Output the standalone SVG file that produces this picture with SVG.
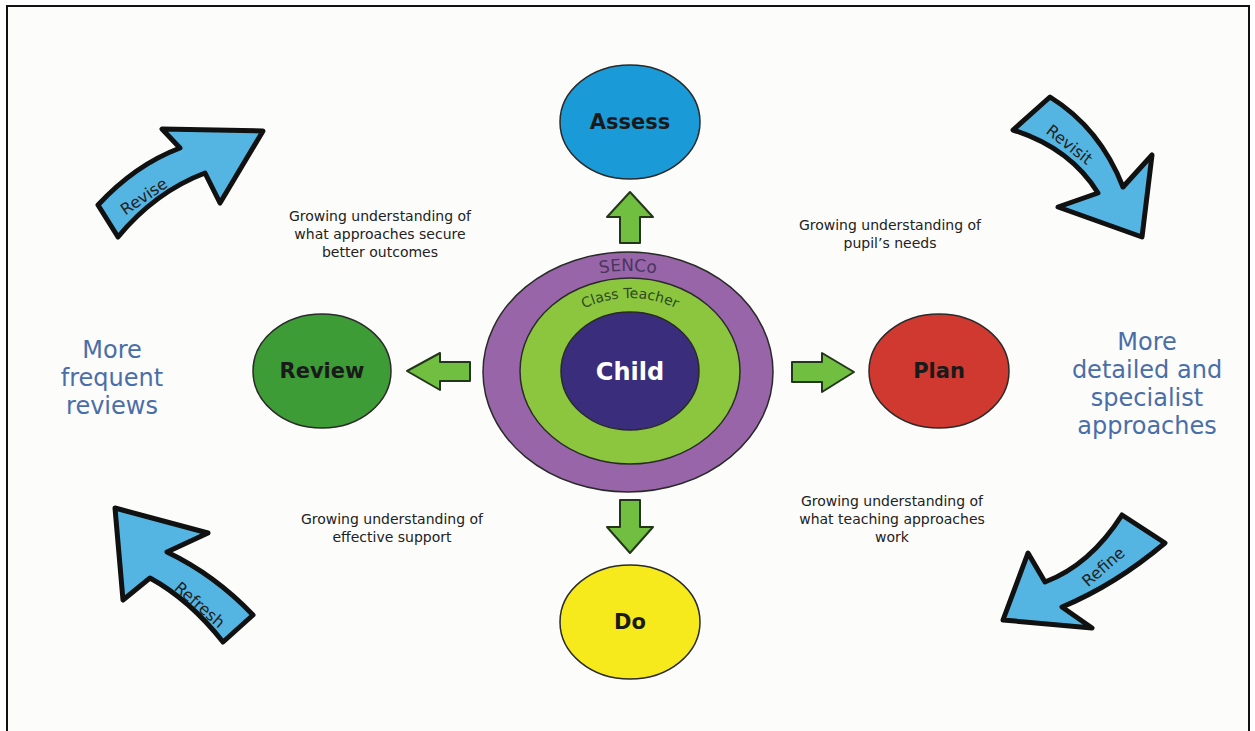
<svg xmlns="http://www.w3.org/2000/svg" width="1255" height="731" viewBox="0 0 1255 731">
<defs>
<style>
.bg{fill:#fcfcfa;stroke:#111;stroke-width:2}
.node{stroke:#2a2a2a;stroke-width:1.5}
.lbl{font-family:"DejaVu Sans",sans-serif;font-weight:bold;font-size:21px;fill:#1a1a1a;text-anchor:middle}
.note{font-family:"DejaVu Sans",sans-serif;font-size:14px;fill:#222;text-anchor:middle}
.big{font-family:"DejaVu Sans",sans-serif;font-size:24px;fill:#4a6ea8;text-anchor:middle}
.green{fill:#70bf41;stroke:#24361a;stroke-width:2;stroke-linejoin:round}
.blue{fill:#55b5e2;stroke:#111;stroke-width:5;stroke-linejoin:round}
.hand{font-family:"DejaVu Sans",sans-serif;font-size:16px;fill:#222;text-anchor:middle}
</style>
<path id="arcS" d="M503,372 A125,101 0 0 1 753,372"/>
<path id="arcT" d="M540,372 A90,74 0 0 1 720,372"/>
</defs>
<rect x="0" y="0" width="1255" height="731" fill="#ffffff"/>
<rect class="bg" x="7" y="6" width="1242" height="740"/>

<g id="connectors">
<path class="green" d="M630,192 L653,217 L640,217 L640,243 L620,243 L620,217 L607,217 Z"/>
<path class="green" d="M630,553 L653,527 L640,527 L640,500 L620,500 L620,527 L607,527 Z"/>
<path class="green" d="M407,371 L440,353 L440,362 L470,362 L470,381 L440,381 L440,390 Z"/>
<path class="green" d="M854,372 L822,353 L822,362 L792,362 L792,382 L822,382 L822,392 Z"/>
</g>

<g id="centre">
<ellipse cx="628" cy="372" rx="145" ry="120" fill="#9866a8" class="node"/>
<ellipse cx="630" cy="371" rx="110" ry="93" fill="#8cc63f" class="node"/>
<ellipse cx="630" cy="371" rx="69" ry="59" fill="#3a2d7c" class="node"/>
<text font-family="DejaVu Sans, sans-serif" font-size="17" fill="#4a3560" text-anchor="middle"><textPath href="#arcS" startOffset="50%">SENCo</textPath></text>
<text font-family="DejaVu Sans, sans-serif" font-size="14" fill="#2e4a1e" text-anchor="middle"><textPath href="#arcT" startOffset="50%">Class Teacher</textPath></text>
<text x="630" y="380" font-family="DejaVu Sans, sans-serif" font-weight="bold" font-size="24" fill="#ffffff" text-anchor="middle">Child</text>
</g>

<g id="assess">
<ellipse cx="630" cy="122" rx="70" ry="57" fill="#1a9ad6" class="node"/>
<text class="lbl" x="630" y="129">Assess</text>
</g>
<g id="review">
<ellipse cx="322" cy="371" rx="69" ry="57" fill="#3d9c35" class="node"/>
<text class="lbl" x="322" y="378">Review</text>
</g>
<g id="plan">
<ellipse cx="939" cy="371" rx="70" ry="57" fill="#d0392f" class="node"/>
<text class="lbl" x="939" y="378">Plan</text>
</g>
<g id="do">
<ellipse cx="630" cy="622" rx="70" ry="57" fill="#f7ea1c" class="node"/>
<text class="lbl" x="630" y="629">Do</text>
</g>

<g id="notes">
<text class="note" x="380" y="221">Growing understanding of</text>
<text class="note" x="380" y="239">what approaches secure</text>
<text class="note" x="380" y="257">better outcomes</text>
<text class="note" x="890" y="230">Growing understanding of</text>
<text class="note" x="890" y="248">pupil’s needs</text>
<text class="note" x="392" y="524">Growing understanding of</text>
<text class="note" x="392" y="542">effective support</text>
<text class="note" x="892" y="506">Growing understanding of</text>
<text class="note" x="892" y="524">what teaching approaches</text>
<text class="note" x="892" y="542">work</text>
</g>

<g id="left-text">
<text class="big" x="112" y="358">More</text>
<text class="big" x="112" y="386">frequent</text>
<text class="big" x="112" y="414">reviews</text>
</g>
<g id="right-text">
<text class="big" x="1147" y="350">More</text>
<text class="big" x="1147" y="378">detailed and</text>
<text class="big" x="1147" y="406">specialist</text>
<text class="big" x="1147" y="434">approaches</text>
</g>

<g id="revise">
<path class="blue" d="M98,205 Q135,165 180,148 L162,129 L263,131 L220,203 L205,173 Q155,192 118,237 Z"/>
<text class="hand" transform="translate(147,201) rotate(-34)">Revise</text>
</g>
<g id="revisit">
<path class="blue" d="M1013,130 L1050,97 Q1100,128 1123,187 L1152,155 L1142,237 L1058,207 L1098,193 Q1070,148 1013,130 Z"/>
<text class="hand" transform="translate(1066,149) rotate(38)">Revisit</text>
</g>
<g id="refresh">
<path class="blue" d="M115,508 L208,533 L167,552 Q215,575 253,615 L223,642 Q190,600 150,578 L123,600 Z"/>
<text class="hand" transform="translate(196,609) rotate(41)">Refresh</text>
</g>
<g id="refine">
<path class="blue" d="M1122,515 L1165,543 Q1115,585 1062,607 L1092,628 L1003,620 L1028,553 L1045,582 Q1090,565 1122,515 Z"/>
<text class="hand" transform="translate(1107,571) rotate(-41)">Refine</text>
</g>
</svg>
